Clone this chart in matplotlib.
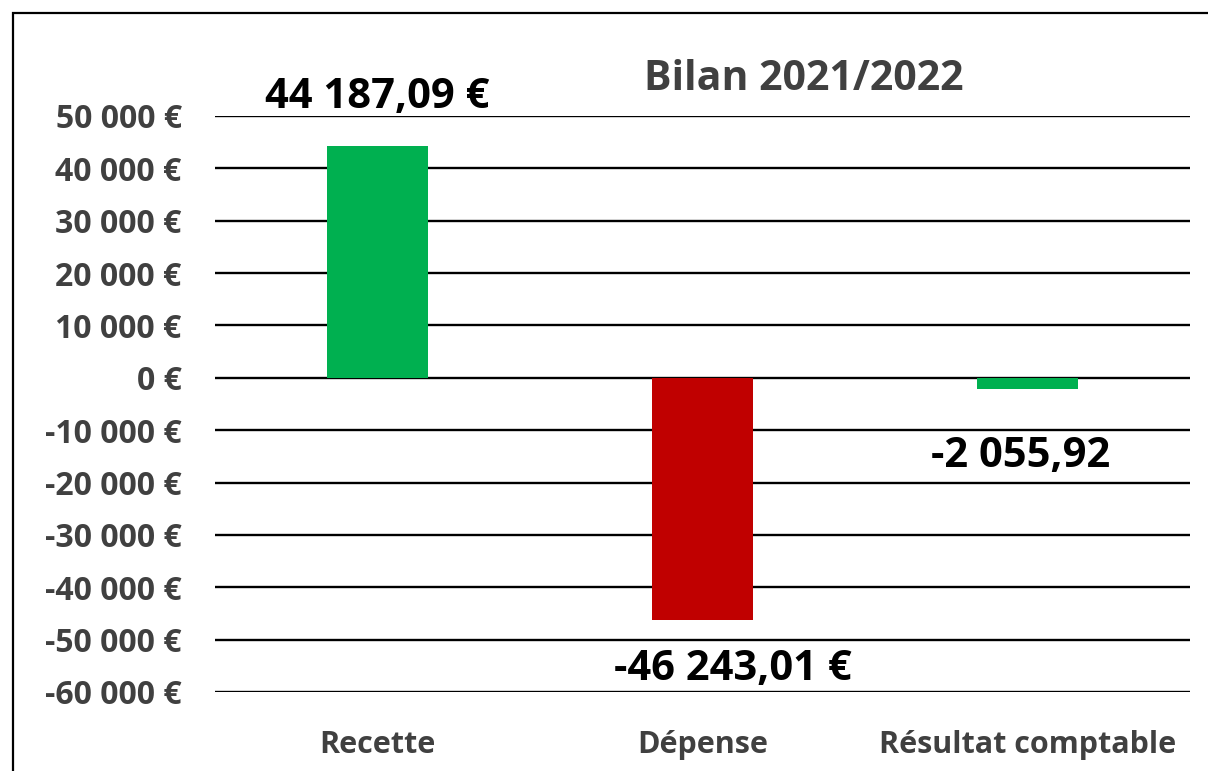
import numpy as np
import matplotlib.pyplot as plt
from matplotlib.patches import Rectangle

# Données du bilan
categories = ["Recette", "Dépense", "Résultat comptable"]
valeurs = [44187.09, -46243.01, -2055.92]
etiquettes = ["44 187,09 €", "-46 243,01 €", "-2 055,92"]
couleurs = ["#00B050", "#C00000", "#00B050"]
yticks = [50000, 40000, 30000, 20000, 10000, 0, -10000, -20000, -30000, -40000, -50000, -60000]

plt.rcParams['font.family'] = ['Open Sans', 'DejaVu Sans']
gris = '#404040'

fig = plt.figure(figsize=(12.08, 7.71), dpi=100)
ax = fig.add_axes([215/1208, 1 - 692/771, (1190 - 215)/1208, (692 - 116)/771])

x = np.arange(len(categories))
ax.bar(x, valeurs, width=0.31, color=couleurs, zorder=3)

ax.set_xlim(-0.5, 2.5)
ax.set_ylim(-60000, 50000)
ax.set_yticks(yticks)
ax.set_yticklabels([f"{v:,.0f} €".replace(",", " ") for v in yticks])
ax.set_xticks(x)
ax.set_xticklabels(categories)
ax.tick_params(length=0, labelcolor=gris)
ax.tick_params(axis='y', pad=24, labelsize=23)
ax.tick_params(axis='x', pad=27.5, labelsize=22)
for lab in ax.get_xticklabels() + ax.get_yticklabels():
    lab.set_fontweight('bold')

for s in ax.spines.values():
    s.set_visible(False)
for v in yticks:
    ax.axhline(v, color='black', lw=1.7, zorder=2)

# étiquettes de données (décalages en points)
decalages = [(0, 35), (22, -36), (-5, -49)]
for xi, v, txt, (dx, dy) in zip(x, valeurs, etiquettes, decalages):
    ax.annotate(txt, (xi, v), xytext=(dx, dy), textcoords='offset points',
                ha='center', va='center', fontsize=30, fontweight='bold', color='black')

fig.text(804/1208, 1 - 79/771, "Bilan 2021/2022", ha='center', va='center',
         fontsize=29.5, fontweight='bold', color=gris)

# cadre du graphique
fig.patches.append(Rectangle((13/1208, -0.1), 1.2, 1.1 - 13/771, transform=fig.transFigure,
                             fill=False, edgecolor='black', lw=1.6))

fig.savefig("out.png", dpi=100)
